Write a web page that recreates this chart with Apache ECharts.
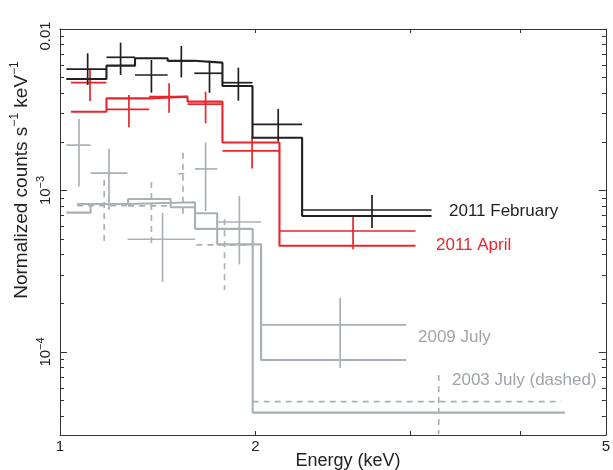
<!DOCTYPE html>
<html><head><meta charset="utf-8">
<script src="https://cdn.jsdelivr.net/npm/echarts@6/dist/echarts.min.js"></script>
<style>html,body{margin:0;padding:0;background:#fff}#c{width:613px;height:470px}</style>
</head><body><div id="c"></div>
<script>
// ---------- data (energy in keV, normalized counts s^-1 keV^-1) ----------
// data crosses: [centre, binLo, binHi, value, errLow, errHigh]
const feb2011Data = [
  [1.290, 1.220, 1.355, 5.65e-3, 4.50e-3, 7.07e-3],
  [1.406, 1.355, 1.460, 6.68e-3, 5.19e-3, 8.23e-3],
  [1.524, 1.460, 1.590, 5.19e-3, 4.03e-3, 6.43e-3],
  [1.648, 1.590, 1.705, 6.34e-3, 5.02e-3, 7.85e-3],
  [1.774, 1.705, 1.835, 5.32e-3, 4.03e-3, 6.36e-3],
  [1.913, 1.835, 1.985, 4.65e-3, 3.60e-3, 5.76e-3],
  [2.123, 1.985, 2.260, 2.57e-3, 2.01e-3, 3.20e-3],
  [2.713, 2.260, 3.170, 7.57e-4, 5.86e-4, 9.38e-4]
];
const feb2011Edges = [1.220, 1.355, 1.460, 1.590, 1.705, 1.835, 1.985, 2.260, 3.170];
const feb2011Model = [4.90e-3, 5.93e-3, 6.59e-3, 6.36e-3, 6.19e-3, 4.44e-3, 2.12e-3, 6.95e-4];

const apr2011Data = [
  [1.298, 1.235, 1.355, 4.65e-3, 3.58e-3, 5.63e-3],
  [1.437, 1.355, 1.515, 3.18e-3, 2.46e-3, 3.90e-3],
  [1.596, 1.515, 1.675, 3.81e-3, 3.03e-3, 4.61e-3],
  [1.756, 1.675, 1.835, 3.43e-3, 2.61e-3, 4.09e-3],
  [1.983, 1.835, 2.130, 1.76e-3, 1.37e-3, 2.15e-3],
  [2.582, 2.130, 3.040, 5.61e-4, 4.32e-4, 6.95e-4]
];
const apr2011Edges = [1.235, 1.355, 1.515, 1.675, 1.835, 2.130, 3.040];
const apr2011Model = [3.07e-3, 3.72e-3, 3.81e-3, 3.55e-3, 1.98e-3, 4.55e-4];

const jul2009Data = [
  [1.261, 1.220, 1.300, 1.91e-3, 1.06e-3, 2.77e-3],
  [1.364, 1.300, 1.432, 1.28e-3, 7.57e-4, 1.81e-3],
  [1.569, 1.432, 1.708, 4.99e-4, 2.72e-4, 7.25e-4],
  [1.756, 1.708, 1.810, 1.36e-3, 7.46e-4, 1.98e-3],
  [1.918, 1.810, 2.030, 6.38e-4, 3.49e-4, 9.25e-4],
  [2.496, 2.030, 2.967, 1.47e-4, 7.96e-5, 2.16e-4]
];
const jul2009Edges = [1.220, 1.300, 1.432, 1.708, 1.810, 2.030, 2.967];
const jul2009Model = [7.29e-4, 8.25e-4, 8.45e-4, 7.22e-4, 4.64e-4, 8.92e-5];

const jul2003Data = [
  [1.347, 1.255, 1.434, 8.05e-4, 4.71e-4, 1.16e-3],
  [1.524, 1.434, 1.603, 8.02e-4, 4.60e-4, 1.13e-3],
  [1.655, 1.635, 1.673, 1.27e-3, 6.88e-4, 1.71e-3],
  [1.845, 1.714, 1.986, 4.60e-4, 2.42e-4, 6.63e-4],
  [3.230, 1.986, 4.450, 4.92e-5, 3.10e-5, 7.20e-5]
];
const jul2003Edges = [1.255, 1.434, 1.603, 1.708, 1.986, 4.493];
const jul2003Model = [8.25e-4, 8.86e-4, 7.87e-4, 5.78e-4, 4.21e-5];

// axes
const xMin = 1.2, xMax = 5;
const yMin = 3.06e-5, yMax = 0.01;
const xLabelValues = [1.2, 2, 5];
const xLabelTexts = ['1', '2', '5'];
const xTickValues = [2, 3, 4];
const yMajorValues = [1e-4, 1e-3, 1e-2];
const yMinorValues = [4e-5, 5e-5, 6e-5, 7e-5, 8e-5, 9e-5,
  2e-4, 3e-4, 4e-4, 5e-4, 6e-4, 7e-4, 8e-4, 9e-4,
  2e-3, 3e-3, 4e-3, 5e-3, 6e-3, 7e-3, 8e-3, 9e-3];

// ---------- chart ----------
const BLACK = '#231f20', RED = '#e9252b', GRAY = '#aab0b7', GRAYTXT = '#9fa4aa';
const FONT = '"Liberation Sans", Arial, Helvetica, sans-serif';

function crossSeries(data, color, dashed) {
  return {
    type: 'custom', xAxisIndex: 0, yAxisIndex: 0, data: data, clip: true,
    encode: { x: [0, 1, 2], y: [3, 4, 5] },
    renderItem: function (params, api) {
      const l = api.coord([api.value(1), api.value(3)]);
      const r = api.coord([api.value(2), api.value(3)]);
      const t = api.coord([api.value(0), api.value(5)]);
      const b = api.coord([api.value(0), api.value(4)]);
      const style = { stroke: color, lineWidth: 1.7, lineDash: dashed ? [6, 5] : null, fill: null };
      return { type: 'group', children: [
        { type: 'line', shape: { x1: l[0], y1: l[1], x2: r[0], y2: r[1] }, style: style },
        { type: 'line', shape: { x1: t[0], y1: t[1], x2: b[0], y2: b[1] }, style: style }
      ] };
    }
  };
}
function modelSeries(edges, vals, color) {
  const pts = edges.map(function (e, i) { return [e, vals[Math.min(i, vals.length - 1)]]; });
  return { type: 'line', step: 'end', data: pts, symbol: 'none', showSymbol: false,
    xAxisIndex: 0, yAxisIndex: 0, lineStyle: { color: color, width: 2.1 }, z: 3, silent: true };
}

function yLabel(v) {
  if (v > 5e-3) return '{t|0.01}';
  const ex = Math.round(-Math.log10(v));
  return '{b|10}{s|\u2212' + ex + '}';
}
const yRich = {
  t: { fontSize: 15, fontFamily: FONT, color: '#222', padding: [0, 14, 0, 0] },
  b: { fontSize: 15, fontFamily: FONT, color: '#222', lineHeight: 18, verticalAlign: 'bottom' },
  s: { fontSize: 11, fontFamily: FONT, color: '#222', lineHeight: 18, verticalAlign: 'top' }
};

function yAx(pos, major, showLabel) {
  return {
    type: 'log', logBase: 10, min: yMin, max: yMax, position: pos,
    axisLine: { show: major, lineStyle: { color: '#333', width: 1 } },
    splitLine: { show: false }, minorTick: { show: false },
    axisTick: { show: true, inside: true, length: major ? 7 : 4,
      customValues: major ? yMajorValues : yMinorValues, lineStyle: { color: '#333', width: 1 } },
    axisLabel: { show: showLabel, customValues: yMajorValues, rotate: 90, margin: 7,
      formatter: yLabel, rich: yRich }
  };
}
function xAx(pos, showLabel) {
  return {
    type: 'log', logBase: 10, min: xMin, max: xMax, position: pos,
    axisLine: { show: true, lineStyle: { color: '#333', width: 1 } },
    splitLine: { show: false },
    axisTick: { show: true, inside: true, length: 4, customValues: xTickValues, lineStyle: { color: '#333' } },
    axisLabel: { show: showLabel, customValues: xLabelValues, margin: 4, fontSize: 15, fontFamily: FONT, color: '#222',
      formatter: function (v) { const i = xLabelValues.findIndex(function (x) { return Math.abs(x - v) < 1e-6; }); return i >= 0 ? xLabelTexts[i] : ''; } }
  };
}

const chart = echarts.init(document.getElementById('c'), null, { renderer: 'canvas' });
chart.setOption({
  animation: false,
  backgroundColor: '#fff',
  grid: { left: 60, right: 5, top: 29, bottom: 35, containLabel: false, show: false },
  xAxis: [xAx('bottom', true), xAx('top', false)],
  yAxis: [yAx('left', true, true), yAx('left', false, false), yAx('right', true, false), yAx('right', false, false)],
  series: [
    modelSeries(jul2003Edges, jul2003Model, GRAY),
    crossSeries(jul2003Data, GRAY, true),
    modelSeries(jul2009Edges, jul2009Model, GRAY),
    crossSeries(jul2009Data, GRAY, false),
    modelSeries(apr2011Edges, apr2011Model, RED),
    crossSeries(apr2011Data, RED, false),
    modelSeries(feb2011Edges, feb2011Model, BLACK),
    crossSeries(feb2011Data, BLACK, false)
  ],
  graphic: [
    { type: 'text', left: 449, top: 203, style: { text: '2011 February', fill: BLACK, font: '17px ' + FONT } },
    { type: 'text', left: 436, top: 237, style: { text: '2011 April', fill: RED, font: '17px ' + FONT } },
    { type: 'text', left: 418, top: 329, style: { text: '2009 July', fill: GRAYTXT, font: '17px ' + FONT } },
    { type: 'text', left: 452, top: 372, style: { text: '2003 July (dashed)', fill: GRAYTXT, font: '17px ' + FONT } },
    { type: 'text', x: 348, y: 461, style: { text: 'Energy (keV)', fill: '#222', font: '18px ' + FONT, align: 'center', verticalAlign: 'middle' } },
    { type: 'text', x: 20, y: 180, rotation: Math.PI / 2,
      style: { text: '{a|Normalized counts s}{s|\u22121}{a| keV}{s|\u22121}', align: 'center', verticalAlign: 'middle',
        rich: { a: { fontSize: 19, fontFamily: FONT, fill: '#222', color: '#222', lineHeight: 23, verticalAlign: 'bottom' },
                s: { fontSize: 12, fontFamily: FONT, fill: '#222', color: '#222', lineHeight: 23, verticalAlign: 'top' } } } }
  ]
});
</script></body></html>
